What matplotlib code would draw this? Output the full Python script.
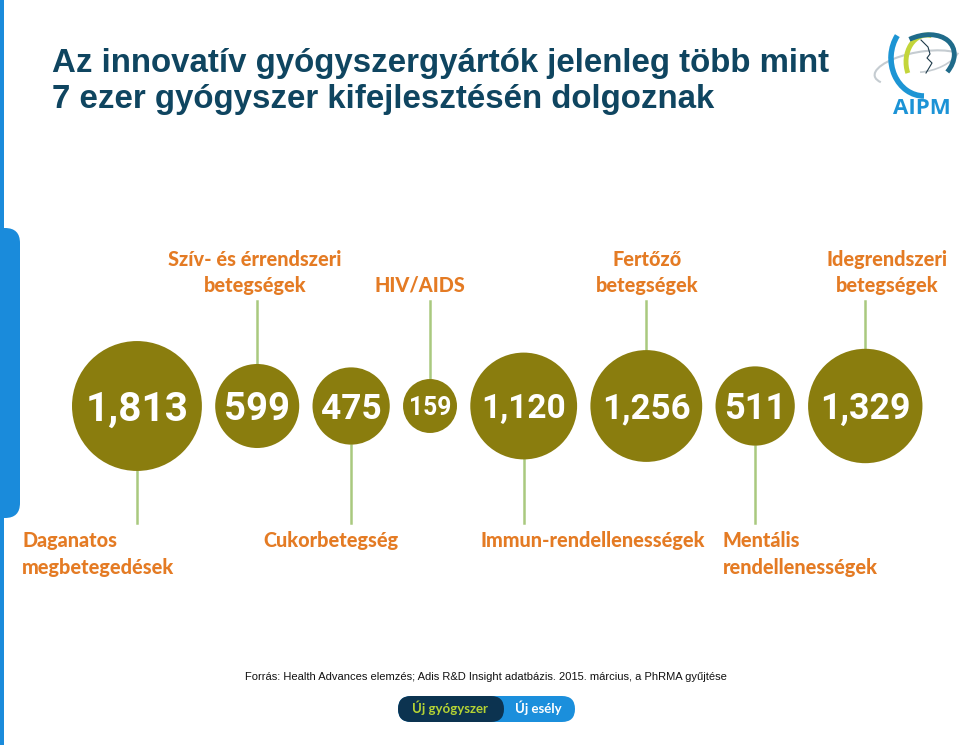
import numpy as np
import matplotlib.pyplot as plt
from matplotlib.patches import Circle, FancyBboxPatch, Arc, Rectangle

# data
values = [1813, 599, 475, 159, 1120, 1256, 511, 1329]
value_labels = ["1,813", "599", "475", "159", "1,120", "1,256", "511", "1,329"]
categories = [
    "Daganatos\nmegbetegedések",
    "Szív- és érrendszeri\nbetegségek",
    "Cukorbetegség",
    "HIV/AIDS",
    "Immun-rendellenességek",
    "Fertőző\nbetegségek",
    "Mentális\nrendellenességek",
    "Idegrendszeri\nbetegségek",
]
label_side = ["bottom", "top", "bottom", "top", "bottom", "top", "bottom", "top"]

title = "Az innovatív gyógyszergyártók jelenleg több mint\n7 ezer gyógyszer kifejlesztésén dolgoznak"
source = "Forrás: Health Advances elemzés; Adis R&D Insight adatbázis. 2015. március, a PhRMA gyűjtése"

# style
OLIVE = "#8a7d0e"
STEM = "#a9c97f"
ORANGE = "#e47b24"
NAVY = "#0f4560"
BLUE = "#1a8bdb"

W, H = 960, 745
fig = plt.figure(figsize=(W / 100, H / 100), dpi=100)
ax = fig.add_axes([0, 0, 1, 1])
ax.set_xlim(0, W)
ax.set_ylim(H, 0)
ax.axis("off")

# left blue border + tab
ax.add_patch(Rectangle((0, 0), 4, H, color=BLUE, lw=0))
ax.add_patch(FancyBboxPatch((-20, 228), 40, 290, boxstyle="round,pad=0,rounding_size=15",
                            color=BLUE, lw=0))

# title
for k, line in enumerate(title.split("\n")):
    ax.text(52, 72 + 36 * k, line, fontsize=23.8, fontweight="bold", color=NAVY,
            family="Liberation Sans", va="baseline")

# bubbles: radius grows with sqrt of value, packed left to right
radii = 11 + 1.267 * np.sqrt(np.array(values, dtype=float))
gap = 13.3
cy = 406
left = 72
centers = []
for r in radii:
    centers.append(left + r)
    left += 2 * r + gap

top_label_x = [None, 255, None, 420, None, 647, None, 887]
bottom_label_x = [22, None, 263, None, 481, None, 723, None]
LABEL_FS = 14.3

for i, (v, lab, r, cx) in enumerate(zip(values, value_labels, radii, centers)):
    ax.add_patch(Circle((cx, cy), r, color=OLIVE, lw=0, zorder=3))
    ndig = sum(c.isdigit() for c in lab)
    width_em = 0.562 * ndig + 0.22 * lab.count(",")
    fs = 1.54 * r / (1.389 * width_em)
    ax.text(cx, cy + 0.36 * fs * 1.389, lab, fontsize=fs, fontweight="bold",
            family="Roboto", color="white", ha="center", va="baseline", zorder=4)

    lines = categories[i].split("\n")
    if label_side[i] == "top":
        ax.plot([cx, cx], [301, cy - r], color=STEM, lw=1.8, zorder=2)
        for j, line in enumerate(reversed(lines)):
            ax.text(top_label_x[i], 292 - 26 * j, line, fontsize=LABEL_FS, fontweight=900,
                    family="Lato", color=ORANGE, ha="center", va="baseline")
    else:
        ax.plot([cx, cx], [cy + r, 523], color=STEM, lw=1.8, zorder=2)
        for j, line in enumerate(lines):
            ax.text(bottom_label_x[i], 547 + 27 * j, line, fontsize=LABEL_FS, fontweight=900,
                    family="Lato", color=ORANGE, ha="left", va="baseline")

# source
ax.text(486, 680, source, fontsize=8.05, family="Liberation Sans", color="#111111",
        ha="center", va="baseline")

# bottom pill button
ax.add_patch(FancyBboxPatch((398, 696), 177, 26, boxstyle="round,pad=0,rounding_size=13",
                            color="#1b8fdc", lw=0))
ax.add_patch(FancyBboxPatch((398, 696), 106, 26, boxstyle="round,pad=0,rounding_size=13",
                            color="#0c3350", lw=0))
ax.text(450, 713, "Új gyógyszer", fontsize=9.5, fontweight="bold", family="Lato",
        color="#b5d334", ha="center", va="baseline")
ax.text(538, 713, "Új esély", fontsize=9.5, fontweight="bold", family="Lato",
        color="white", ha="center", va="baseline")

# logo
ax.add_patch(Arc((920, 68), 92, 32, angle=-10, theta1=170, theta2=345, color="#c5ccd1", lw=1.5))
ax.add_patch(Arc((926, 50), 72, 42, angle=-15, theta1=20, theta2=120, color="#c5ccd1", lw=1.2))
ax.add_patch(Arc((924, 58), 66, 76, angle=0, theta1=90, theta2=220, color="#1d95d4", lw=4))
ax.add_patch(Arc((927, 62), 42, 54, angle=0, theta1=150, theta2=280, color="#c3d53a", lw=3.5))
ax.add_patch(Arc((920, 62), 72, 50, angle=-25, theta1=-90, theta2=45, color="#1f6b8a", lw=3.5))
ax.plot([921, 928, 930, 927, 932, 929, 926], [40, 47, 54, 58, 63, 68, 73], color="#1e3a4a", lw=0.8)
ax.text(922, 114, "AIPM", fontsize=16, fontweight="bold", family="Open Sans",
        color="#1c93d6", ha="center", va="baseline")

fig.savefig("out.png", dpi=100)
